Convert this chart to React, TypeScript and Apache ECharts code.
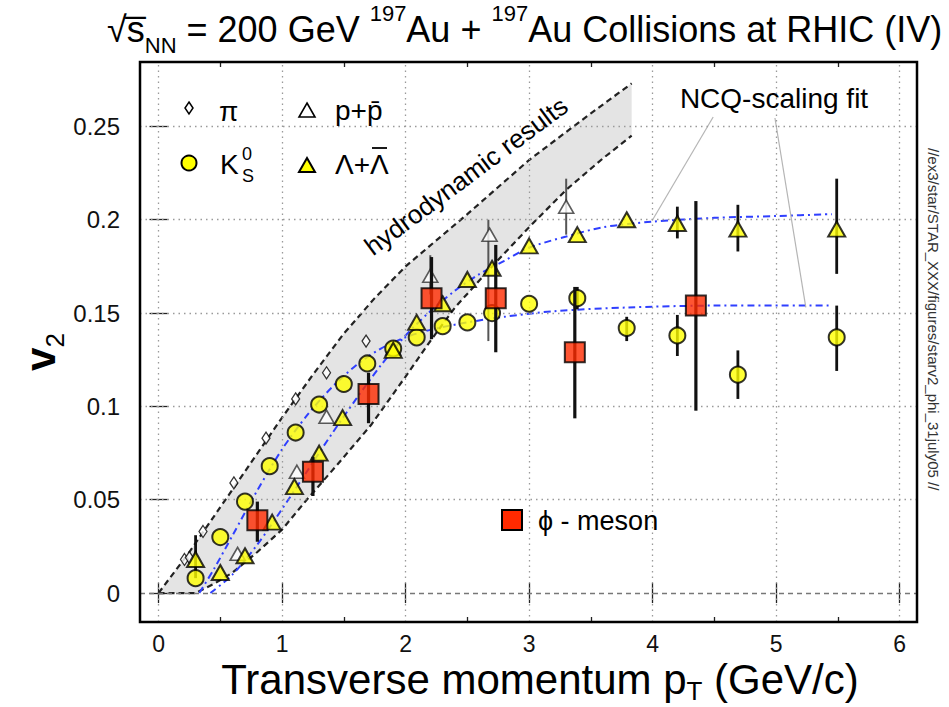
import React, { useEffect, useRef } from "react";
import * as echarts from "echarts";

const FONT = "'Liberation Sans', Arial, Helvetica, sans-serif";

// axis ticks
const xTicks = [0, 1, 2, 3, 4, 5, 6];
const xMinorTicks = [0.5, 1.5, 2.5, 3.5, 4.5, 5.5];
const yTicks = [0, 0.05, 0.1, 0.15, 0.2, 0.25];

// pi
const pionPt = [0.21, 0.25, 0.36, 0.61, 0.87, 1.11, 1.36, 1.68];
const pionV2 = [0.018, 0.019, 0.033, 0.059, 0.083, 0.104, 0.118, 0.135];

// p + pbar
const protonPt = [0.64, 1.12, 1.36, 1.9, 2.2, 2.68, 3.3];
const protonV2 = [0.021, 0.065, 0.0945, 0.131, 0.17, 0.192, 0.207];
const protonErrPt = [2.2, 2.67, 3.3];
const protonErrLo = [0.16, 0.135, 0.192];
const protonErrHi = [0.181, 0.2, 0.222];

// K0s
const kaonPt = [0.3, 0.5, 0.7, 0.9, 1.11, 1.3, 1.5, 1.69, 1.9, 2.09, 2.3, 2.5, 2.7, 3.0, 3.39, 3.79, 4.2, 4.69, 5.49];
const kaonV2 = [0.008, 0.03, 0.049, 0.068, 0.086, 0.101, 0.112, 0.123, 0.131, 0.137, 0.143, 0.145, 0.15, 0.155, 0.158, 0.142, 0.138, 0.117, 0.137];
const kaonErrPt = [3.39, 3.79, 4.2, 4.69, 5.49];
const kaonErrLo = [0.152, 0.135, 0.127, 0.104, 0.119];
const kaonErrHi = [0.164, 0.148, 0.149, 0.13, 0.154];

// Lambda + anti-Lambda
const lambdaPt = [0.3, 0.5, 0.7, 0.92, 1.1, 1.3, 1.49, 1.9, 2.09, 2.3, 2.5, 2.7, 3.0, 3.39, 3.79, 4.2, 4.69, 5.49];
const lambdaV2 = [0.018, 0.011, 0.02, 0.038, 0.057, 0.075, 0.094, 0.13, 0.145, 0.155, 0.168, 0.174, 0.186, 0.192, 0.2, 0.198, 0.195, 0.195];
const lambdaErrPt = [0.3, 4.2, 4.69, 5.49];
const lambdaErrLo = [0.008, 0.19, 0.183, 0.171];
const lambdaErrHi = [0.031, 0.207, 0.208, 0.222];

// phi meson
const phiPt = [0.8, 1.25, 1.7, 2.21, 2.73, 3.37, 4.35];
const phiV2 = [0.039, 0.065, 0.1066, 0.158, 0.158, 0.129, 0.154];
const phiErrLo = [0.0275, 0.052, 0.091, 0.136, 0.129, 0.0936, 0.0977];
const phiErrHi = [0.049, 0.073, 0.118, 0.18, 0.1865, 0.164, 0.21];

// hydrodynamic band edges
const hydroUpperPt = [0, 0.25, 0.5, 0.75, 1.0, 1.25, 1.5, 1.75, 2.0, 2.5, 3.0, 3.5, 3.83];
const hydroUpperV2 = [0, 0.022, 0.046, 0.07, 0.094, 0.117, 0.139, 0.158, 0.175, 0.203, 0.232, 0.257, 0.273];
const hydroLowerPt = [0, 0.3, 0.45, 0.6, 0.8, 1.0, 1.2, 1.45, 1.72, 2.0, 2.2, 2.4, 2.7, 3.0, 3.3, 3.6, 3.83];
const hydroLowerV2 = [0, 0, 0.005, 0.011, 0.022, 0.034, 0.05, 0.069, 0.09, 0.116, 0.135, 0.153, 0.175, 0.196, 0.216, 0.233, 0.245];

// NCQ-scaling fits
const baryonFitPt = [0.42, 0.6, 0.8, 1.0, 1.2, 1.4, 1.6, 1.8, 2.0, 2.2, 2.4, 2.6, 2.8, 3.0, 3.3, 3.6, 4.0, 4.5, 5.0, 5.45];
const baryonFitV2 = [0, 0.01, 0.026, 0.045, 0.065, 0.085, 0.104, 0.122, 0.138, 0.151, 0.162, 0.171, 0.178, 0.185, 0.191, 0.196, 0.199, 0.201, 0.202, 0.203];
const mesonFitPt = [0.33, 0.45, 0.6, 0.8, 1.0, 1.2, 1.4, 1.6, 1.8, 2.0, 2.2, 2.5, 2.8, 3.2, 3.8, 4.5, 5.45];
const mesonFitV2 = [0, 0.013, 0.031, 0.055, 0.077, 0.095, 0.11, 0.122, 0.131, 0.137, 0.141, 0.145, 0.148, 0.151, 0.153, 0.154, 0.154];

// leader lines from the fit label
const leaderBaryonPt = [4.49, 4.0];
const leaderBaryonV2 = [0.255, 0.2];
const leaderMesonPt = [4.99, 5.24];
const leaderMesonV2 = [0.2545, 0.153];

const pairs = (xs: number[], ys: number[]) => xs.map((x, i) => [x, ys[i]]);

const errorBars = (xs: number[], lo: number[], hi: number[], color: string, width: number, z: number) => ({
  type: "custom",
  silent: true,
  z,
  data: xs.map((x, i) => [x, lo[i], hi[i]]),
  encode: { x: 0, y: [1, 2] },
  renderItem: (_p: any, api: any) => {
    const a = api.coord([api.value(0), api.value(1)]);
    const b = api.coord([api.value(0), api.value(2)]);
    return {
      type: "line",
      shape: { x1: a[0], y1: a[1], x2: b[0], y2: b[1] },
      style: { stroke: color, lineWidth: width },
    };
  },
});

const X_MIN = -0.15;
const X_MAX = 6.14;
const Y_MIN = -0.0155;
const Y_MAX = 0.2845;

const xAxisDef = (position: string, ticks: number[], len: number, labels: boolean) => ({
  type: "value",
  position,
  min: X_MIN,
  max: X_MAX,
  axisLine: { show: false },
  splitLine: { show: false },
  axisTick: { show: true, inside: true, length: len, customValues: ticks, lineStyle: { color: "#222", width: 1.3 } },
  axisLabel: labels
    ? { show: true, customValues: ticks, margin: 10, fontSize: 23, color: "#111", fontFamily: FONT }
    : { show: false },
});

const yAxisDef = (position: string, labels: boolean) => ({
  type: "value",
  position,
  min: Y_MIN,
  max: Y_MAX,
  axisLine: { show: false },
  splitLine: { show: false },
  axisTick: { show: true, inside: true, length: 9, customValues: yTicks, lineStyle: { color: "#222", width: 1.3 } },
  axisLabel: labels
    ? { show: true, customValues: yTicks, margin: 20, fontSize: 24, color: "#111", fontFamily: FONT, formatter: (v: number) => String(v) }
    : { show: false },
});

const tri = (cx: number, cy: number, fill: string) => ({
  type: "polygon",
  z: 100,
  shape: { points: [[cx, cy - 8], [cx + 8, cy + 6], [cx - 8, cy + 6]] },
  style: { fill, stroke: "#000", lineWidth: fill === "#fff" ? 1.6 : 2 },
});

const label = (x: number, y: number, text: string, size: number, extra: any = {}) => ({
  type: "text",
  z: 100,
  x,
  y,
  style: { text, fontSize: size, fontFamily: FONT, fill: "#000", verticalAlign: "middle", align: "left", ...extra },
});

export default function App() {
  const ref = useRef<HTMLDivElement>(null);

  useEffect(() => {
    if (!ref.current) return;
    const chart = echarts.init(ref.current, undefined, { renderer: "svg" });

    const option: any = {
      animation: false,
      backgroundColor: "#fff",
      grid: { left: 140, right: 32, top: 62, bottom: 85, show: true, borderColor: "#000", borderWidth: 2.5, backgroundColor: "transparent", z: 10 },
      xAxis: [
        xAxisDef("bottom", xTicks, 10, true),
        xAxisDef("top", xTicks, 10, false),
        xAxisDef("bottom", xMinorTicks, 5, false),
        xAxisDef("top", xMinorTicks, 5, false),
      ],
      yAxis: [yAxisDef("left", true), yAxisDef("right", false)],
      series: [
        // grey hydrodynamic band
        {
          type: "custom",
          silent: true,
          z: 0,
          data: [[0, 0]],
          renderItem: (_p: any, api: any) => {
            const up = hydroUpperPt.map((x, i) => api.coord([x, hydroUpperV2[i]]));
            const lo = hydroLowerPt.map((x, i) => api.coord([x, hydroLowerV2[i]])).reverse();
            return { type: "polygon", shape: { points: [...up, ...lo] }, style: { fill: "#e4e4e4" } };
          },
        },
        // grid lines
        {
          type: "line",
          data: [],
          silent: true,
          z: 1,
          markLine: {
            silent: true,
            symbol: ["none", "none"],
            label: { show: false },
            lineStyle: { type: [1.5, 4], color: "#9a9a9a", width: 1.3 },
            data: [
              ...xTicks.map((v) => ({ xAxis: v })),
              ...yTicks.filter((v) => v > 0).map((v) => ({ yAxis: v })),
              { yAxis: 0, lineStyle: { type: [5, 4], color: "#777", width: 1.4 } },
            ],
          },
        },
        {
          type: "line",
          data: pairs(hydroUpperPt, hydroUpperV2),
          showSymbol: false,
          silent: true,
          z: 2,
          lineStyle: { color: "#222", width: 2.2, type: [6, 4] },
        },
        {
          type: "line",
          data: pairs(hydroLowerPt, hydroLowerV2),
          showSymbol: false,
          silent: true,
          z: 2,
          lineStyle: { color: "#222", width: 2.2, type: [6, 4] },
        },
        {
          type: "line",
          data: pairs(baryonFitPt, baryonFitV2),
          showSymbol: false,
          smooth: 0.3,
          silent: true,
          z: 3,
          lineStyle: { color: "#2f3fff", width: 2, type: [7, 4, 2, 4] },
        },
        {
          type: "line",
          data: pairs(mesonFitPt, mesonFitV2),
          showSymbol: false,
          smooth: 0.3,
          silent: true,
          z: 3,
          lineStyle: { color: "#2f3fff", width: 2, type: [7, 4, 2, 4] },
        },
        {
          type: "line",
          data: pairs(leaderBaryonPt, leaderBaryonV2),
          showSymbol: false,
          silent: true,
          z: 3,
          lineStyle: { color: "#b5b5b5", width: 1.2 },
        },
        {
          type: "line",
          data: pairs(leaderMesonPt, leaderMesonV2),
          showSymbol: false,
          silent: true,
          z: 3,
          lineStyle: { color: "#b5b5b5", width: 1.2 },
        },
        errorBars(protonErrPt, protonErrLo, protonErrHi, "#555", 2, 4),
        errorBars(kaonErrPt, kaonErrLo, kaonErrHi, "#111", 2.8, 4),
        errorBars(lambdaErrPt, lambdaErrLo, lambdaErrHi, "#111", 2.8, 4),
        {
          type: "scatter",
          name: "π",
          data: pairs(pionPt, pionV2),
          symbol: "diamond",
          symbolSize: [8, 12],
          z: 5,
          itemStyle: { color: "#fff", borderColor: "#000", borderWidth: 1.3 },
        },
        {
          type: "scatter",
          name: "p+p̄",
          data: pairs(protonPt, protonV2),
          symbol: "triangle",
          symbolSize: [15, 13],
          z: 5,
          itemStyle: { color: "#fff", borderColor: "#333", borderWidth: 1.6 },
        },
        {
          type: "scatter",
          name: "K0S",
          data: pairs(kaonPt, kaonV2),
          symbol: "circle",
          symbolSize: 16,
          z: 5,
          itemStyle: { color: "#ffff00", borderColor: "#000", borderWidth: 2 },
        },
        {
          type: "scatter",
          name: "Λ+Λbar",
          data: pairs(lambdaPt, lambdaV2),
          symbol: "triangle",
          symbolSize: [17, 15],
          z: 5,
          itemStyle: { color: "#ffff00", borderColor: "#000", borderWidth: 2 },
        },
        errorBars(phiPt, phiErrLo, phiErrHi, "#111", 3.2, 6),
        {
          type: "scatter",
          name: "ϕ",
          data: pairs(phiPt, phiV2),
          symbol: "rect",
          symbolSize: 20,
          z: 7,
          itemStyle: { color: "#ff2a00", borderColor: "#000", borderWidth: 2 },
        },
      ],
      graphic: [
        // title
        {
          type: "text",
          x: 107,
          y: 29,
          z: 100,
          style: {
            text: "{m|√s̅}{sub|NN}{m| = 200 GeV }{sup|197}{m|Au + }{sup|197}{m|Au Collisions at RHIC (IV)}",
            fill: "#000",
            align: "left",
            verticalAlign: "middle",
            rich: {
              m: { fontSize: 36, fontFamily: FONT, lineHeight: 54, fill: "#000" },
              sup: { fontSize: 22, fontFamily: FONT, lineHeight: 30, verticalAlign: "top", fill: "#000" },
              sub: { fontSize: 22, fontFamily: FONT, lineHeight: 22, verticalAlign: "bottom", fill: "#000" },
            },
          },
        },
        // x axis title
        {
          type: "text",
          x: 540,
          y: 679,
          z: 100,
          style: {
            text: "{m|Transverse momentum p}{sub|T}{m| (GeV/c)}",
            fill: "#000",
            align: "center",
            verticalAlign: "middle",
            rich: {
              m: { fontSize: 42, fontFamily: FONT, lineHeight: 50, fill: "#000" },
              sub: { fontSize: 26, fontFamily: FONT, lineHeight: 26, verticalAlign: "bottom", fill: "#000" },
            },
          },
        },
        // y axis title
        {
          type: "text",
          x: 40,
          y: 352,
          rotation: Math.PI / 2,
          z: 100,
          style: {
            text: "{m|v}{sub|2}",
            fill: "#000",
            align: "center",
            verticalAlign: "middle",
            rich: {
              m: { fontSize: 42, fontFamily: FONT, fontWeight: "bold", lineHeight: 56, fill: "#000" },
              sub: { fontSize: 26, fontFamily: FONT, lineHeight: 26, verticalAlign: "bottom", fill: "#000" },
            },
          },
        },
        // file path note on the right
        {
          type: "text",
          x: 933,
          y: 148,
          rotation: -Math.PI / 2,
          z: 100,
          style: { text: "//ex3/star/STAR_XXX/figures/starv2_phi_31july05 //", fontSize: 15, fontFamily: FONT, fill: "#333", align: "left", verticalAlign: "middle" },
        },
        // band label
        {
          type: "text",
          x: 466,
          y: 176,
          rotation: 0.64,
          z: 100,
          style: { text: "hydrodynamic results", fontSize: 26, fontFamily: FONT, fill: "#000", align: "center", verticalAlign: "middle" },
        },
        label(774, 98, "NCQ-scaling fit", 28, { align: "center" }),
        // legend keys
        {
          type: "polygon",
          z: 100,
          shape: { points: [[189, 102], [193, 108], [189, 114], [185, 108]] },
          style: { fill: "#fff", stroke: "#000", lineWidth: 1.5 },
        },
        label(219, 111, "π", 28),
        tri(307, 111, "#fff"),
        label(335, 110, "p+p̄", 28),
        { type: "circle", z: 100, shape: { cx: 189, cy: 163, r: 7.5 }, style: { fill: "#ffff00", stroke: "#000", lineWidth: 2 } },
        label(220, 164, "K", 28),
        label(242, 154, "0", 18),
        label(242, 176, "S", 18),
        tri(307, 166, "#ffff00"),
        label(335, 164, "Λ+Λ", 28),
        { type: "line", z: 100, shape: { x1: 372, y1: 148, x2: 387, y2: 148 }, style: { stroke: "#000", lineWidth: 1.8 } },
        { type: "rect", z: 100, shape: { x: 502, y: 510, width: 20, height: 20 }, style: { fill: "#ff2a00", stroke: "#000", lineWidth: 2 } },
        label(538, 521, "ϕ - meson", 27),
      ],
    };

    chart.setOption(option);
    return () => chart.dispose();
  }, []);

  return <div ref={ref} style={{ position: "fixed", left: 0, top: 0, width: 949, height: 707, background: "#fff" }} />;
}
